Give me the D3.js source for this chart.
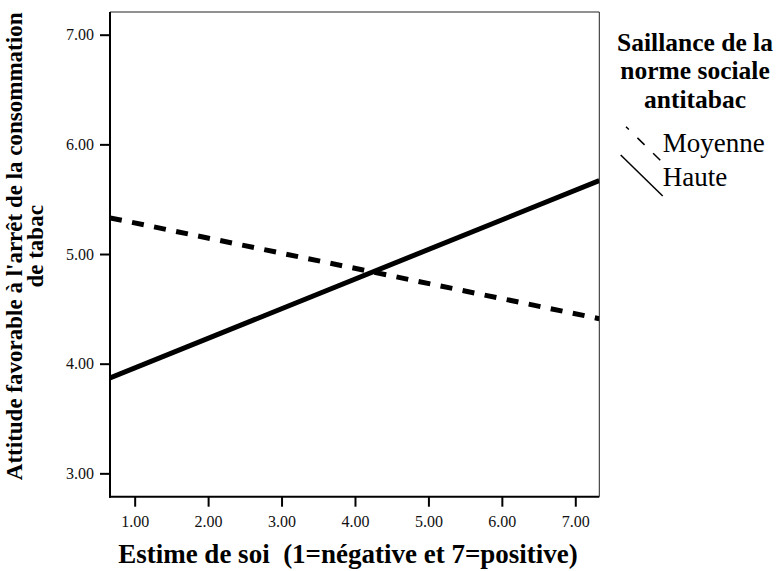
<!DOCTYPE html>
<html>
<head>
<meta charset="utf-8">
<script src="https://cdn.jsdelivr.net/npm/d3@7"></script>
<style>
  html, body { margin: 0; padding: 0; background: #fff; }
  svg { display: block; font-family: "Liberation Serif", "Times New Roman", serif; }
</style>
</head>
<body>
<svg id="chart" width="782" height="571"></svg>
<script>
// Self-esteem (x) against attitude towards quitting smoking (y),
// one fitted line per level of anti-smoking norm salience.
const xTicks = [1, 2, 3, 4, 5, 6, 7];
const yTicks = [3, 4, 5, 6, 7];
const xExtent = [0.664, 7.327];
const yExtent = [2.787, 7.207];

// Fitted lines, evaluated at the two ends of the x range
const estime = [0.664, 7.327];
const moyenne = [5.33, 4.41];
const haute = [3.87, 5.67];

const seriesNames = ["Moyenne", "Haute"];
const legendTitle = ["Saillance de la", "norme sociale", "antitabac"];
const xTitle = "Estime de soi  (1=négative et 7=positive)";
const yTitle = ["Attitude favorable à l'arrêt de la consommation", "de tabac"];

const svg = d3.select("#chart");
const plot = { left: 110, right: 599.3, top: 12, bottom: 496.7 };

const x = d3.scaleLinear().domain(xExtent).range([plot.left, plot.right]);
const y = d3.scaleLinear().domain(yExtent).range([plot.bottom, plot.top]);

// Frame: thin top/right edges
svg.append("path")
  .attr("d", `M${plot.left},${plot.top}H${plot.right}V${plot.bottom}`)
  .attr("fill", "none").attr("stroke", "#222").attr("stroke-width", 1);

// Axes
const fmt = d3.format(".2f");
const yAxis = svg.append("g")
  .attr("transform", `translate(${plot.left},0)`)
  .call(d3.axisLeft(y).tickValues(yTicks).tickFormat(fmt).tickSize(10).tickPadding(6));
const xAxis = svg.append("g")
  .attr("transform", `translate(0,${plot.bottom})`)
  .call(d3.axisBottom(x).tickValues(xTicks).tickFormat(fmt).tickSize(10).tickPadding(9));

[xAxis, yAxis].forEach(g => {
  g.attr("font-family", "Liberation Serif, serif").attr("font-size", 16);
  g.select(".domain").attr("stroke", "#000").attr("stroke-width", 2)
    .attr("d", g === xAxis
      ? `M${plot.left - 1},0H${plot.right}`
      : `M0,${plot.top}V${plot.bottom + 1}`);
  g.selectAll(".tick line").attr("stroke", "#000").attr("stroke-width", 2);
  g.selectAll(".tick text").attr("fill", "#111");
});

// Clip the fitted lines to the plotting area
svg.append("clipPath").attr("id", "plotClip")
  .append("rect")
  .attr("x", plot.left).attr("y", plot.top)
  .attr("width", plot.right - plot.left).attr("height", plot.bottom - plot.top);

const line = d3.line().x(d => x(d[0])).y(d => y(d[1]));
const lines = svg.append("g").attr("clip-path", "url(#plotClip)");

lines.append("path")
  .datum(d3.zip(estime, moyenne))
  .attr("d", line)
  .attr("fill", "none").attr("stroke", "#000").attr("stroke-width", 5)
  .attr("stroke-dasharray", "12,10.5");

lines.append("path")
  .datum(d3.zip(estime, haute))
  .attr("d", line)
  .attr("fill", "none").attr("stroke", "#000").attr("stroke-width", 5);

// Axis titles
svg.append("text")
  .attr("x", 348).attr("y", 563)
  .attr("text-anchor", "middle")
  .attr("font-weight", "bold").attr("font-size", 27)
  .style("white-space", "pre")
  .text(xTitle);

const yt = svg.append("text")
  .attr("transform", `translate(0,${(plot.top + plot.bottom) / 2 - 8}) rotate(-90)`)
  .attr("text-anchor", "middle")
  .attr("font-weight", "bold").attr("font-size", 23);
yt.selectAll("tspan").data(yTitle).join("tspan")
  .attr("x", 0)
  .attr("y", (d, i) => 22 + i * 21)
  .text(d => d);

// Legend
const lg = svg.append("g");
lg.selectAll("text.title").data(legendTitle).join("text")
  .attr("class", "title")
  .attr("text-anchor", "middle")
  .attr("font-weight", "bold").attr("font-size", 25.5)
  .attr("x", 695)
  .attr("y", (d, i) => 51 + i * 28.3)
  .text(d => d);

const legendItems = [
  { name: seriesNames[0], dash: "10,12", offset: 6, x1: 626, y1: 126.7, x2: 661.7, y2: 161.7, ty: 151.7 },
  { name: seriesNames[1], dash: null, offset: 0, x1: 620.7, y1: 155, x2: 662.7, y2: 196, ty: 186 }
];
legendItems.forEach(it => {
  lg.append("line")
    .attr("x1", it.x1).attr("y1", it.y1).attr("x2", it.x2).attr("y2", it.y2)
    .attr("stroke", "#000").attr("stroke-width", 1.5)
    .attr("stroke-dasharray", it.dash)
    .attr("stroke-dashoffset", it.offset);
  lg.append("text")
    .attr("x", 662.7).attr("y", it.ty)
    .attr("font-size", 27)
    .text(it.name);
});
</script>
</body>
</html>
